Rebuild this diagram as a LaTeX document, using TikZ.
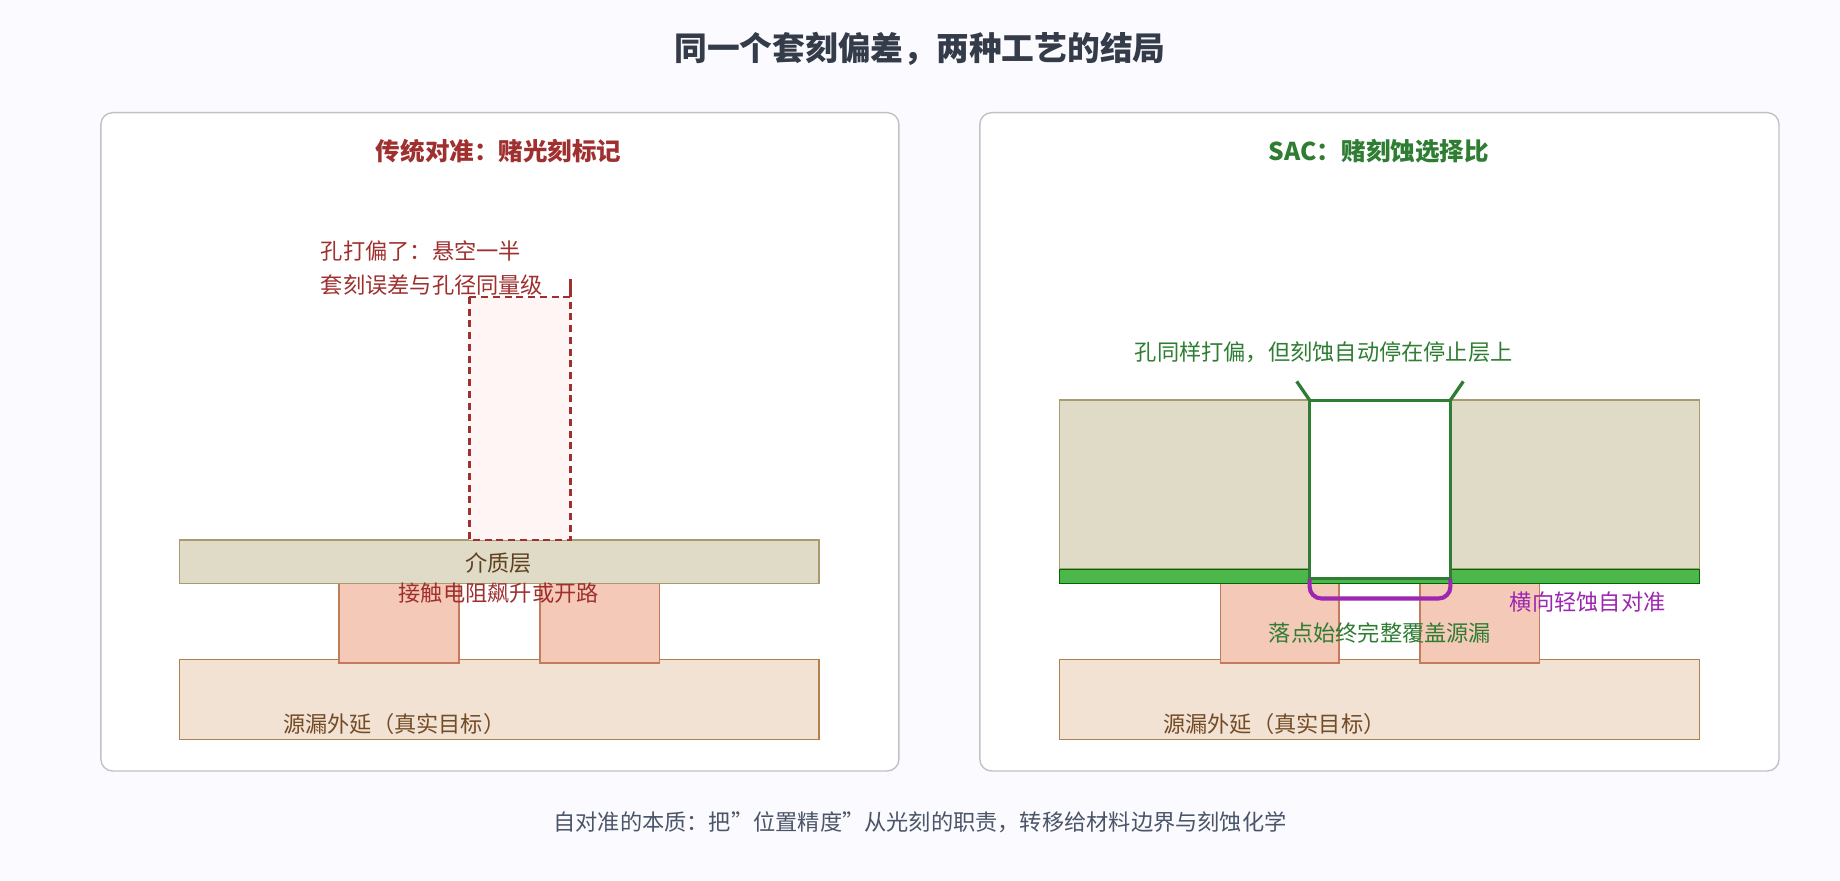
\documentclass[tikz,border=0pt]{standalone}
\usepackage{fontspec}
\setmainfont{Noto Sans CJK SC}
\begin{document}
\begin{tikzpicture}[x=1bp,y=-1bp,
  t/.style={font=\fontsize{19}{21}\selectfont},
  panel/.style={draw=black!20!gray!40,fill=white,rounded corners=10bp,line width=1.2bp}]
\definecolor{dred}{HTML}{A03030}\definecolor{dgreen}{HTML}{2E7D32}
\definecolor{basec}{HTML}{F2E2D4}\definecolor{padc}{HTML}{F5C9B8}\definecolor{dielc}{HTML}{E0DBC6}
\definecolor{purp}{HTML}{9C27B0}\definecolor{txt}{HTML}{4A5568}
\definecolor{basel}{HTML}{B0804F}\definecolor{padl}{HTML}{C57A5C}\definecolor{diell}{HTML}{A89B70}
\tikzset{base/.style={fill=basec,draw=basel,line width=1.2bp},pad/.style={fill=padc,draw=padl,line width=1.2bp},diel/.style={fill=dielc,draw=diell,line width=1.2bp}}
\fill[gray!4!blue!2!white] (0,0) rectangle (1568,750);
\useasboundingbox (0,0) rectangle (1568,750);
\node[font=\fontsize{28}{30}\selectfont\bfseries,text=txt!70!black] (title) at (784,42) {同一个套刻偏差，两种工艺的结局};
\draw[panel] (86,96) rectangle (766,657);
\draw[panel] (835,96) rectangle (1516,657);
\node[font=\fontsize{21}{23}\selectfont\bfseries,text=dred] (lt) at (425,129) {传统对准：赌光刻标记};
\node[font=\fontsize{21}{23}\selectfont\bfseries,text=dgreen] (rt) at (1175,129) {SAC：赌刻蚀选择比};
% left
\draw[base] (153,562) rectangle (698,630);
\draw[pad] (289,497) rectangle (391,565);
\draw[pad] (460,497) rectangle (562,565);
\draw[diel] (153,460) rectangle (698,497);
\fill[red!4] (400,253) rectangle (486,460);
\draw[dred,line width=2.2bp,dash pattern=on 6bp off 4bp] (400,253) rectangle (486,460);
\draw[dred,line width=2.2bp] (486,238) -- (486,253);
\node[t,text=brown!60!black] at (336,617) {源漏外延（真实目标）};
\node[t,text=brown!50!black] at (425,480) {介质层};
\node[t,text=dred] at (425,505) {接触电阻飙升或开路};
\node[t,text=dred,anchor=west] at (270,214) {孔打偏了：悬空一半};
\node[t,text=dred,anchor=west] at (270,243) {套刻误差与孔径同量级};
% right
\draw[base] (903,562) rectangle (1448,630);
\draw[pad] (1040,497) rectangle (1141,565);
\draw[pad] (1210,497) rectangle (1312,565);
\draw[diel] (903,341) rectangle (1116,485);
\draw[diel] (1236,341) rectangle (1448,485);
\draw[fill=green!60!black!70!white,draw=green!40!black] (903,485) rectangle (1448,497);
\draw[dgreen,fill=white,line width=2.8bp] (1116,341) rectangle (1236,493);
\draw[dgreen,line width=2.8bp] (1105,325) -- (1116,341) (1247,325) -- (1236,341);
\draw[purp,line width=3.5bp,rounded corners=10bp] (1116,493) -- (1116,510) -- (1236,510) -- (1236,493);
\node[t,text=dgreen] at (1128,300) {孔同样打偏，但刻蚀自动停在停止层上};
\node[t,text=purp] at (1353,513) {横向轻蚀自对准};
\node[t,text=dgreen] at (1176,539) {落点始终完整覆盖源漏};
\node[t,text=brown!60!black] at (1086,617) {源漏外延（真实目标）};
% bottom
\fill[gray!15!blue!2!white] (86,679) rectangle (1516,721);
\node[t,text=txt] at (784,701) {自对准的本质：把\symbol{34}位置精度\symbol{34}从光刻的职责，转移给材料边界与刻蚀化学};
\end{tikzpicture}
\end{document}
